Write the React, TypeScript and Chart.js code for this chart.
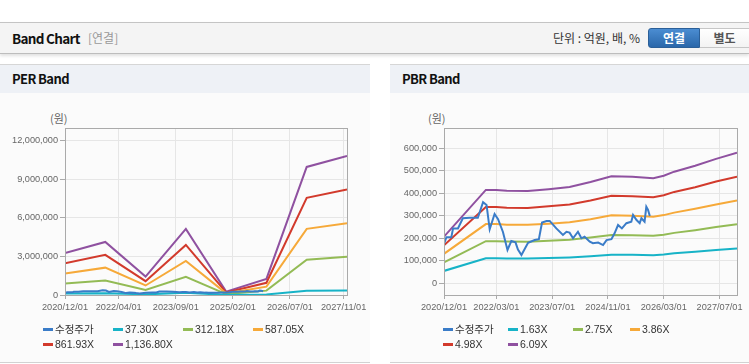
import React, { useEffect, useRef } from "react";
import { Chart, registerables } from "chart.js";
Chart.register(...registerables);

// ---------- data ----------
const axisEndMonth = 84; // months after 2020/12/01
const perTickLabels = ["2020/12/01", "2022/04/01", "2023/09/01", "2025/02/01", "2026/07/01", "2027/11/01"];
const perTickMonths = [0, 16, 33, 50, 67, 83];
const pbrTickLabels = ["2020/12/01", "2022/03/01", "2023/07/01", "2024/11/01", "2026/03/01", "2027/07/01"];
const pbrTickMonths = [0, 15, 31, 47, 63, 79];

const perYTicks = [0, 3000000, 6000000, 9000000, 12000000];
const pbrYTicks = [0, 100000, 200000, 300000, 400000, 500000, 600000];

// adjusted price (수정주가), x in months since 2020/12
const priceMonths = [0, 0.7, 2.1, 2.6, 4.0, 5.4, 7.4, 9.7, 11.2, 12.2, 13.1, 14.5, 15.5, 16.9, 18.2, 19.3, 20.5, 21.2, 22.2, 24.1, 26.0, 27.2, 28.1, 29.4, 30.3, 32.2, 34.1, 35.1, 36.0, 37.0, 38.4, 39.4, 40.3, 41.8, 42.7, 44.2, 45.6, 46.6, 48.0, 48.9, 49.9, 51.0, 52.3, 53.7, 54.2, 55.2, 56.1, 56.6, 57.5, 58.0, 58.5, 59.0];
const priceValues = [175000, 205000, 205000, 244000, 244000, 289000, 291000, 291000, 360000, 348000, 240000, 308000, 285000, 228000, 148000, 188000, 182000, 150000, 126000, 180000, 192000, 196000, 270000, 277000, 277000, 244000, 215000, 229000, 225000, 200000, 229000, 200000, 207000, 185000, 178000, 181000, 170000, 192000, 196000, 222000, 259000, 244000, 267000, 274000, 304000, 281000, 267000, 289000, 274000, 340000, 326000, 299000];

// PER bands
const perBandMonths = [0, 12, 24, 36, 48, 60, 72, 84];
const per3730 = [110000, 140000, 50000, 170000, 10000, 40000, 330000, 360000];
const per31218 = [900000, 1130000, 390000, 1410000, 70000, 340000, 2740000, 2970000];
const per58705 = [1680000, 2130000, 740000, 2650000, 130000, 650000, 5150000, 5590000];
const per86193 = [2470000, 3130000, 1080000, 3900000, 200000, 950000, 7560000, 8210000];
const per113680 = [3260000, 4130000, 1430000, 5140000, 260000, 1250000, 9970000, 10830000];
const perLabels = ["수정주가", "37.30X", "312.18X", "587.05X", "861.93X", "1,136.80X"];

// PBR bands
const pbrBandMonths = [0, 12, 15, 18, 24, 30, 36, 42, 48, 54, 60, 63, 66, 72, 78, 84];
const pbr163 = [55000, 111000, 111000, 110000, 110000, 112000, 115000, 120000, 127000, 127000, 125000, 128000, 133000, 140000, 148000, 155000];
const pbr275 = [93000, 187000, 187000, 186000, 185000, 189000, 193000, 203000, 215000, 214000, 211000, 216000, 224000, 236000, 250000, 262000];
const pbr386 = [131000, 263000, 263000, 260000, 260000, 265000, 271000, 285000, 302000, 300000, 296000, 303000, 314000, 331000, 350000, 368000];
const pbr498 = [169000, 339000, 339000, 336000, 335000, 342000, 350000, 368000, 389000, 387000, 382000, 391000, 406000, 427000, 452000, 474000];
const pbr609 = [207000, 415000, 415000, 411000, 410000, 418000, 428000, 450000, 476000, 473000, 467000, 478000, 496000, 522000, 553000, 580000];
const pbrLabels = ["수정주가", "1.63X", "2.75X", "3.86X", "4.98X", "6.09X"];

const seriesColors = ["#3a7cc8", "#17b3c7", "#93bb55", "#f6a939", "#d23a2c", "#8f51a0"];

// ---------- helpers ----------
const tickFont = { family: "'Liberation Sans', 'Noto Sans CJK KR', sans-serif", size: 9.2 };
const pts = (xs: number[], ys: number[]) => xs.map((x, i) => ({ x, y: ys[i] }));

const framePlugin = {
  id: "frame",
  afterDraw(chart: any) {
    const { ctx, chartArea } = chart;
    ctx.save();
    ctx.strokeStyle = "#aaaaaa";
    ctx.lineWidth = 1;
    ctx.strokeRect(Math.round(chartArea.left) + 0.5, Math.round(chartArea.top) + 0.5,
      Math.round(chartArea.right - chartArea.left), Math.round(chartArea.bottom - chartArea.top));
    ctx.restore();
  },
};

type BandProps = {
  left: number;
  width: number;
  title: string;
  labels: string[];
  bandMonths: number[];
  bands: number[][];
  yTicks: number[];
  yMin: number;
  yMax: number;
  xTickMonths: number[];
  xTickLabels: string[];
  yAxisWidth: number;
  padRight: number;
  legendX: number[];
  unitX: number;
};

function BandPanel(p: BandProps) {
  const ref = useRef<HTMLCanvasElement | null>(null);
  const canvasTop = 94;
  const canvasH = 268;

  useEffect(() => {
    if (!ref.current) return;
    const datasets: any[] = [
      {
        label: p.labels[0],
        data: pts(priceMonths, priceValues),
        borderColor: seriesColors[0],
        backgroundColor: seriesColors[0],
      },
      ...p.bands.map((b, i) => ({
        label: p.labels[i + 1],
        data: pts(p.bandMonths, b),
        borderColor: seriesColors[i + 1],
        backgroundColor: seriesColors[i + 1],
      })),
    ];
    const chart = new Chart(ref.current, {
      type: "line",
      data: { datasets },
      options: {
        animation: false,
        responsive: false,
        maintainAspectRatio: false,
        layout: { padding: { left: 0, right: p.padRight, top: 34, bottom: 47 } },
        plugins: { legend: { display: false }, tooltip: { enabled: false } },
        elements: { point: { radius: 0 }, line: { borderWidth: 2, tension: 0 } },
        scales: {
          x: {
            type: "linear",
            min: 0,
            max: axisEndMonth,
            afterBuildTicks: (s: any) => {
              s.ticks = p.xTickMonths.map((v) => ({ value: v }));
            },
            afterFit: (s: any) => {
              s.height = 20;
            },
            ticks: {
              autoSkip: false,
              maxRotation: 0,
              font: tickFont,
              color: "#666",
              padding: 3,
              callback: (_v: any, i: number) => p.xTickLabels[i],
            },
            grid: { color: "#e6e6e6", tickLength: 4, tickColor: "#aaa" },
            border: { color: "#aaa" },
          },
          y: {
            type: "linear",
            min: p.yMin,
            max: p.yMax,
            afterBuildTicks: (s: any) => {
              s.ticks = p.yTicks.map((v) => ({ value: v }));
            },
            afterFit: (s: any) => {
              s.width = p.yAxisWidth;
            },
            ticks: {
              font: tickFont,
              color: "#666",
              padding: 2,
              callback: (v: any) => Number(v).toLocaleString("en-US"),
            },
            grid: { color: "#e6e6e6", tickLength: 5, tickColor: "#aaa" },
            border: { color: "#aaa" },
          },
        },
      },
      plugins: [framePlugin],
    });
    return () => chart.destroy();
  }, []);

  const legendRows = [p.legendX.slice(0, 4), p.legendX.slice(0, 2)];
  const legendY = [329, 344];
  const items: any[] = [];
  p.labels.forEach((lab, i) => {
    const row = i < 4 ? 0 : 1;
    const col = i < 4 ? i : i - 4;
    const x = legendRows[row][col];
    const y = legendY[row];
    items.push(
      <div key={"s" + i} style={{ position: "absolute", left: x, top: y - 1.5, width: 10, height: 3, background: seriesColors[i] }} />,
      <div key={"t" + i} style={{ position: "absolute", left: x + 12, top: y - 8, height: 16, lineHeight: "16px", fontSize: 10.5, color: "#333", fontFamily: "'Liberation Sans', 'Noto Sans CJK KR', sans-serif", whiteSpace: "nowrap" }}>{lab}</div>
    );
  });

  return (
    <>
      <div style={{ position: "absolute", left: p.left, top: 64, width: p.width, height: 299, boxSizing: "border-box", borderTop: "1px solid #d6d6d6", borderBottom: "1px solid #d2d2d2", background: "#fbfbfb" }} />
      <div style={{ position: "absolute", left: p.left, top: 65, width: p.width, height: 28, background: "#eef1f6" }} />
      <div style={{ position: "absolute", left: p.left + 12, top: 65, height: 28, lineHeight: "28px", fontSize: 13, letterSpacing: -0.6, fontWeight: 700, color: "#111", fontFamily: "'Noto Sans CJK KR', sans-serif" }}>{p.title}</div>
      <div style={{ position: "absolute", left: p.unitX, top: 110, height: 16, lineHeight: "16px", fontSize: 11, color: "#666", fontFamily: "'Noto Sans CJK KR', sans-serif" }}>(원)</div>
      <canvas ref={ref} width={p.width} height={canvasH} style={{ position: "absolute", left: p.left, top: canvasTop, width: p.width, height: canvasH }} />
      {items}
    </>
  );
}

export default function App() {
  const kr = "'Noto Sans CJK KR', sans-serif";
  return (
    <div style={{ position: "absolute", left: 0, top: 0, width: 749, height: 364, background: "#fff", overflow: "hidden", fontFamily: kr }}>
      <div style={{ position: "absolute", left: 0, top: 22, width: 749, height: 32, boxSizing: "border-box", borderTop: "1px solid #c4c4c4", borderBottom: "1px solid #bdbdbd", background: "#f4f4f4", boxShadow: "0 2px 3px rgba(0,0,0,0.12)" }} />
      <div style={{ position: "absolute", left: 12, top: 23, height: 30, lineHeight: "30px", fontSize: 13.5, letterSpacing: -0.7, fontWeight: 700, color: "#111" }}>Band Chart</div>
      <div style={{ position: "absolute", left: 88, top: 23, height: 30, lineHeight: "30px", fontSize: 12, color: "#999" }}>[연결]</div>
      <div style={{ position: "absolute", left: 553, top: 23, height: 30, lineHeight: "30px", fontSize: 12, color: "#333" }}>단위 : 억원, 배, %</div>
      <div style={{ position: "absolute", left: 648, top: 28, width: 52, height: 20, boxSizing: "border-box", border: "1px solid #2b5f98", borderRadius: "3px 0 0 3px", background: "linear-gradient(#4b8dd2, #2a67aa)", color: "#fff", fontSize: 12, fontWeight: 700, lineHeight: "18px", textAlign: "center" }}>연결</div>
      <div style={{ position: "absolute", left: 700, top: 28, width: 50, height: 20, boxSizing: "border-box", border: "1px solid #c6c6c6", borderLeft: "none", background: "linear-gradient(#ffffff, #f3f3f3)", color: "#555", fontSize: 12, fontWeight: 700, lineHeight: "18px", textAlign: "center" }}>별도</div>

      <BandPanel
        left={0}
        width={370}
        title="PER Band"
        labels={perLabels}
        bandMonths={perBandMonths}
        bands={[per3730, per31218, per58705, per86193, per113680]}
        yTicks={perYTicks}
        yMin={0}
        yMax={13000000}
        xTickMonths={perTickMonths}
        xTickLabels={perTickLabels}
        yAxisWidth={65}
        padRight={23}
        legendX={[43, 113, 183, 253]}
        unitX={50}
      />
      <BandPanel
        left={390}
        width={359}
        title="PBR Band"
        labels={pbrLabels}
        bandMonths={pbrBandMonths}
        bands={[pbr163, pbr275, pbr386, pbr498, pbr609]}
        yTicks={pbrYTicks}
        yMin={-52000}
        yMax={690000}
        xTickMonths={pbrTickMonths}
        xTickLabels={pbrTickLabels}
        yAxisWidth={54}
        padRight={12}
        legendX={[443, 508, 573, 630]}
        unitX={428}
      />
    </div>
  );
}
